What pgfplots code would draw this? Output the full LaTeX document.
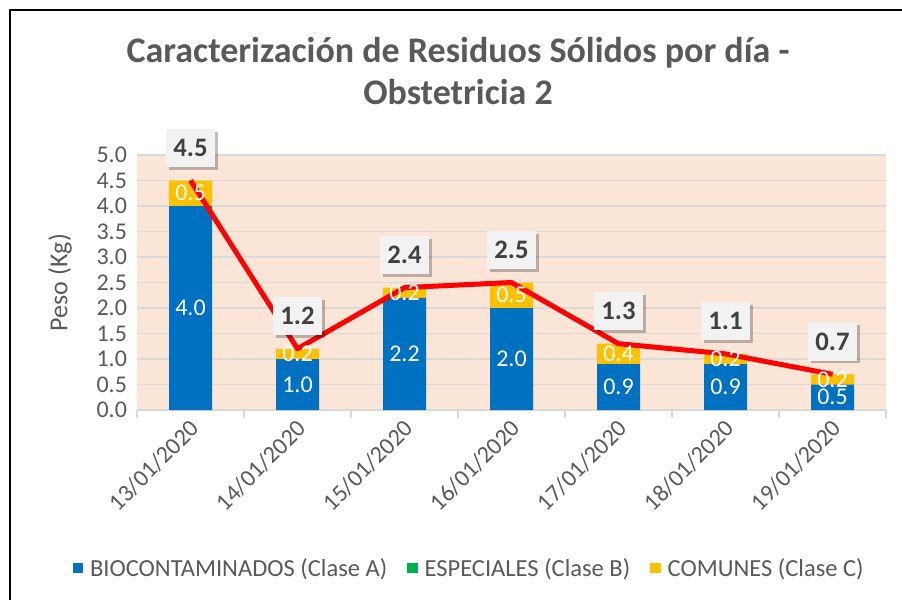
\documentclass[border=0pt]{standalone}
\usepackage{fontspec}
\setmainfont{Carlito}
\usepackage{pgfplots}
\pgfplotsset{compat=1.18}
\usetikzlibrary{shadows}
\definecolor{bio}{HTML}{0070C0}
\definecolor{esp}{HTML}{00B050}
\definecolor{com}{HTML}{FFC000}
\definecolor{bg}{HTML}{FBE5D6}
\definecolor{gridc}{HTML}{D9D9D9}
\definecolor{txt}{HTML}{595959}
\definecolor{lbl}{HTML}{404040}
\definecolor{boxc}{HTML}{F2F2F2}
\pgfplotsset{
 base/.style={scale only axis, width=561.75pt, height=191.25pt,
   xmin=-0.5, xmax=6.5, ymin=0, ymax=5,
   at={(102.75pt,142.5pt)}, anchor=south west, clip=false}
}
\begin{document}
\begin{tikzpicture}
\path[use as bounding box] (0,0) rectangle (676.5pt,450pt);
\begin{axis}[base,
 ybar stacked, bar width=32.25pt,
 /pgf/number format/assume math mode=true,
 axis background/.style={fill=bg},
 axis x line=bottom, axis y line=left,
 x axis line style={draw=gridc, line width=1.1pt, -},
 y axis line style={draw=none, -},
 xtick={0,...,6},
 xticklabels={13/01/2020,14/01/2020,15/01/2020,16/01/2020,17/01/2020,18/01/2020,19/01/2020},
 minor xtick={-0.5,0.5,...,6.5},
 major tick length=0pt,
 minor tick length=6pt,
 tick align=outside,
 major tick style={draw=none},
 minor tick style={draw=gridc, line width=1.1pt},
 ytick={0,0.5,...,5},
 ymajorgrids, major grid style={draw=gridc, line width=1.1pt},
 tick label style={font=\fontsize{18}{20}\selectfont, text=txt},
 y tick label style={/pgf/number format/fixed, /pgf/number format/fixed zerofill, /pgf/number format/precision=1, xshift=-4pt},
 x tick label style={rotate=45, anchor=north east, xshift=-2pt},
 title={Caracterización de Residuos Sólidos por día -\\Obstetricia 2},
 title style={at={(axis description cs:0.4286,1.298)}, anchor=center, align=center, font=\bfseries\fontsize{27}{31.5}\selectfont, text=txt},
 ylabel={Peso (Kg)},
 ylabel style={at={(axis description cs:-0.1028,0.5)}, anchor=center, font=\fontsize{19.5}{22}\selectfont, text=txt},
 legend style={at={(axis description cs:0.444,-0.62)}, anchor=center, draw=none, fill=none, legend columns=3, font=\fontsize{18.4}{20}\selectfont, text=txt,
   /tikz/every even column/.append style={column sep=13pt},
   /tikz/every odd column/.append style={column sep=3pt}},
 legend image code/.code={\fill[#1] (-1pt,-4pt) rectangle (7pt,4pt);},
]
\addplot[fill=bio, draw=none] coordinates {(0,4.0)(1,1.0)(2,2.2)(3,2.0)(4,0.9)(5,0.9)(6,0.5)};
\addplot[fill=esp, draw=none] coordinates {(0,0)(1,0)(2,0)(3,0)(4,0)(5,0)(6,0)};
\addplot[fill=com, draw=none] coordinates {(0,0.5)(1,0.2)(2,0.2)(3,0.5)(4,0.4)(5,0.2)(6,0.2)};
\legend{BIOCONTAMINADOS (Clase A), ESPECIALES (Clase B), COMUNES (Clase C)}
\end{axis}
\begin{axis}[base, hide axis]
\addplot[draw=none, mark=none, nodes near coords, point meta=explicit symbolic,
  every node near coord/.style={anchor=center, text=white, font=\fontsize{18}{20}\selectfont}]
  coordinates {(0,2.0)[4.0] (1,0.5)[1.0] (2,1.1)[2.2] (3,1.0)[2.0] (4,0.45)[0.9] (5,0.45)[0.9] (6,0.25)[0.5]};
\addplot[draw=none, mark=none, nodes near coords, point meta=explicit symbolic,
  every node near coord/.style={anchor=center, text=white, font=\fontsize{18}{20}\selectfont}]
  coordinates {(0,4.25)[0.5] (1,1.1)[0.2] (2,2.3)[0.2] (3,2.25)[0.5] (4,1.1)[0.4] (5,1.0)[0.2] (6,0.6)[0.2]};
\addplot[red, line width=3.75pt, line join=round, mark=none,
  nodes near coords={\pgfmathprintnumber[fixed,fixed zerofill,precision=1,assume math mode=true]{\pgfplotspointmeta}},
  every node near coord/.style={anchor=center, yshift=24.4pt, fill=boxc, draw=none, minimum width=37pt, minimum height=28.5pt, inner sep=2pt, text=lbl, font=\bfseries\fontsize{20}{22}\selectfont, drop shadow={shadow xshift=2pt, shadow yshift=-2pt, opacity=0.25, fill=black, draw=none}}]
  coordinates {(0,4.5)(1,1.2)(2,2.4)(3,2.5)(4,1.3)(5,1.1)(6,0.7)};
\end{axis}
\draw[line width=1.5pt] (7.5pt,0) -- (7.5pt,442.5pt) -- (676.5pt,442.5pt);
\end{tikzpicture}
\end{document}
